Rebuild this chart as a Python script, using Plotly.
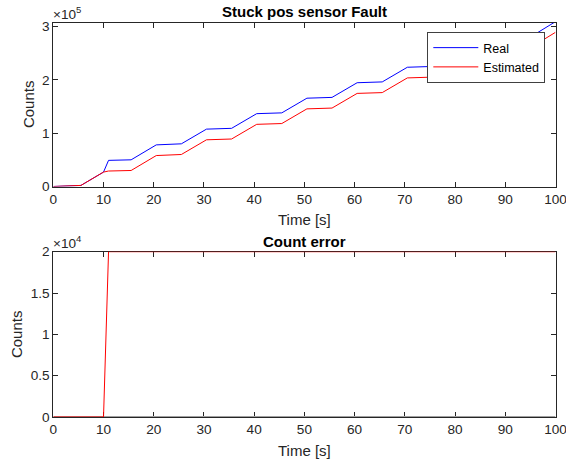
import plotly.graph_objects as go

# Data
time_real = [0, 5.5, 10, 11, 15.5, 20.5, 25.5, 30.5, 35.5, 40.5, 45.5, 50.5, 55.5,
             60.5, 65.5, 70.5, 75.5, 80.5, 85.5, 90.5, 95.5, 100]
counts_real = [0, 2000, 27000, 49000, 50000, 78000, 80000, 107500, 109000, 136500,
               138000, 165500, 167000, 194500, 196000, 223500, 225000, 252500,
               254000, 281500, 283000, 309000]
counts_est = [0, 2000, 27000, 29000, 30000, 58000, 60000, 87500, 89000, 116500,
              118000, 145500, 147000, 174500, 176000, 203500, 205000, 232500,
              234000, 261500, 263000, 289000]
time_err = [0, 10, 11, 100]
count_err = [0, 0, 20000, 20000]
time_base = [0, 100]
count_base = [0, 0]

x_ticks = [0, 10, 20, 30, 40, 50, 60, 70, 80, 90, 100]
y1_ticks = [0, 100000, 200000, 300000]
y1_labels = ["0", "1", "2", "3"]
y2_ticks = [0, 5000, 10000, 15000, 20000]
y2_labels = ["0", "0.5", "1", "1.5", "2"]

W, H = 566, 461
FONT = "Liberation Sans, Arial, sans-serif"
AX = "#262626"
TICK = 13.6
LAB = 15


def px_x(p):
    return p / W


def px_y(p):
    return (H - p) / H


fig = go.Figure()
fig.add_trace(go.Scatter(x=time_real, y=counts_real, mode="lines", name="Real",
                         line=dict(color="#0000FF", width=1), xaxis="x", yaxis="y"))
fig.add_trace(go.Scatter(x=time_real, y=counts_est, mode="lines", name="Estimated",
                         line=dict(color="#FF0000", width=1), xaxis="x", yaxis="y"))
fig.add_trace(go.Scatter(x=time_base, y=count_base, mode="lines", showlegend=False,
                         line=dict(color="#A0A0A0", width=2), xaxis="x2", yaxis="y2",
                         cliponaxis=False))
fig.add_trace(go.Scatter(x=time_err, y=count_err, mode="lines", name="Error",
                         showlegend=False, cliponaxis=False,
                         line=dict(color="#FF0000", width=1), xaxis="x2", yaxis="y2"))

axcommon = dict(showgrid=False, zeroline=False, showline=True, linecolor=AX,
                linewidth=1, mirror="ticks", ticks="inside", ticklen=5,
                tickcolor=AX, automargin=False, ticklabeloverflow="allow",
                tickfont=dict(family=FONT, size=TICK, color=AX))

xl, xr = 53.3, 555.5
xd = [px_x(xl), px_x(xr)]
xc = (xd[0] + xd[1]) / 2
fig.update_layout(
    width=W, height=H,
    margin=dict(l=0, r=0, t=0, b=0),
    paper_bgcolor="white", plot_bgcolor="white",
    font=dict(family=FONT, color=AX),
    xaxis=dict(domain=xd, range=[0, 100], tickvals=x_ticks, anchor="y", **axcommon),
    yaxis=dict(domain=[px_y(186.5), px_y(22.7)], range=[0, 307000], tickvals=y1_ticks,
               ticktext=y1_labels, anchor="x", **axcommon),
    xaxis2=dict(domain=xd, range=[0, 100], tickvals=x_ticks, anchor="y2",
                layer="below traces", **axcommon),
    yaxis2=dict(domain=[px_y(417), px_y(251.7)], range=[0, 20000], tickvals=y2_ticks,
                ticktext=y2_labels, anchor="x2", **axcommon),
    legend=dict(x=px_x(427.3), y=px_y(32), xanchor="left", yanchor="top",
                bgcolor="white", bordercolor="#404040", borderwidth=1,
                font=dict(family=FONT, size=12.5, color="black"),
                itemwidth=45, tracegroupgap=0),
    showlegend=True,
    annotations=[
        dict(text="<b>Stuck pos sensor Fault</b>", x=xc, y=px_y(12),
             xref="paper", yref="paper", showarrow=False,
             font=dict(family=FONT, size=LAB, color="black"), yanchor="middle"),
        dict(text="<b>Count error</b>", x=xc, y=px_y(241),
             xref="paper", yref="paper", showarrow=False,
             font=dict(family=FONT, size=LAB, color="black"), yanchor="middle"),
        dict(text="×10<sup>5</sup>", x=px_x(51), y=px_y(13),
             xref="paper", yref="paper", showarrow=False, xanchor="left",
             font=dict(family=FONT, size=TICK, color=AX), yanchor="middle"),
        dict(text="×10<sup>4</sup>", x=px_x(51), y=px_y(242),
             xref="paper", yref="paper", showarrow=False, xanchor="left",
             font=dict(family=FONT, size=TICK, color=AX), yanchor="middle"),
        dict(text="Time [s]", x=xc, y=px_y(219), xref="paper", yref="paper",
             showarrow=False, font=dict(family=FONT, size=LAB, color=AX), yanchor="middle"),
        dict(text="Time [s]", x=xc, y=px_y(450), xref="paper", yref="paper",
             showarrow=False, font=dict(family=FONT, size=LAB, color=AX), yanchor="middle"),
        dict(text="Counts", x=px_x(28.5), y=(px_y(186.5) + px_y(22.7)) / 2,
             xref="paper", yref="paper", showarrow=False, textangle=-90,
             font=dict(family=FONT, size=LAB, color=AX), xanchor="center", yanchor="middle"),
        dict(text="Counts", x=px_x(16.7), y=(px_y(417) + px_y(251.7)) / 2,
             xref="paper", yref="paper", showarrow=False, textangle=-90,
             font=dict(family=FONT, size=LAB, color=AX), xanchor="center", yanchor="middle"),
    ],
)

fig.write_html("out.html")
